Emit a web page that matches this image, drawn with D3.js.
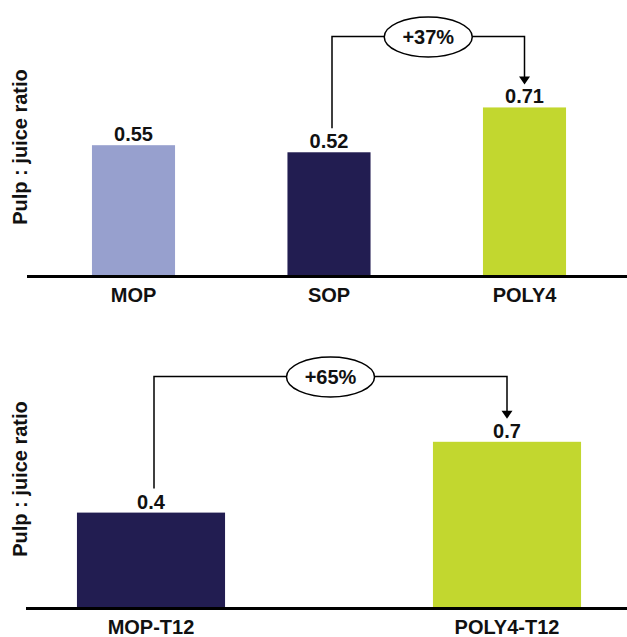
<!DOCTYPE html>
<html>
<head>
<meta charset="utf-8">
<script src="https://cdn.jsdelivr.net/npm/d3@7"></script>
<style>
  html, body { margin: 0; padding: 0; background: #fff; }
  svg { display: block; }
  text { font-family: "Liberation Sans", Arial, Helvetica, sans-serif; font-weight: bold; fill: #111; }
</style>
</head>
<body>
<svg id="chart" width="627" height="637"></svg>
<script>
// ---- Data ----
const topCategories = ["MOP", "SOP", "POLY4"];
const topValues = [0.55, 0.52, 0.71];
const topColors = ["#97A0CE", "#221D51", "#C2D72F"];
const topChange = "+37%";
const topFrom = "SOP", topTo = "POLY4";

const bottomCategories = ["MOP-T12", "POLY4-T12"];
const bottomValues = [0.4, 0.7];
const bottomColors = ["#221D51", "#C2D72F"];
const bottomChange = "+65%";
const bottomFrom = "MOP-T12", bottomTo = "POLY4-T12";

const yTitle = "Pulp : juice ratio";

// ---- Drawing ----
const svg = d3.select("#chart");
const FS = 20;

function panel(cfg) {
  const g = svg.append("g");
  const x = d3.scaleBand().domain(cfg.categories).range(cfg.xRange)
    .paddingInner(cfg.padding).paddingOuter(cfg.padding / 2);
  const y = d3.scaleLinear().domain([0, 1]).range([cfg.base, cfg.base - 236]);
  const fmt = d3.format(cfg.fmt);
  const data = cfg.categories.map((c, i) => ({ c, v: cfg.values[i], col: cfg.colors[i] }));

  g.selectAll("rect.bar").data(data).join("rect")
    .attr("class", "bar")
    .attr("x", d => x(d.c))
    .attr("width", x.bandwidth())
    .attr("y", d => y(d.v))
    .attr("height", d => y(0) - y(d.v))
    .attr("fill", d => d.col);

  g.selectAll("text.val").data(data).join("text")
    .attr("class", "val")
    .attr("x", d => x(d.c) + x.bandwidth() / 2)
    .attr("y", d => y(d.v) - 4)
    .attr("text-anchor", "middle")
    .attr("font-size", FS)
    .text(d => fmt(d.v));

  // baseline axis line
  g.append("line")
    .attr("x1", cfg.axisX0).attr("x2", 627)
    .attr("y1", cfg.base + 1.5).attr("y2", cfg.base + 1.5)
    .attr("stroke", "#000").attr("stroke-width", 3);

  // category labels via axis
  const ax = g.append("g").attr("transform", `translate(0,${cfg.base + 1})`)
    .call(d3.axisBottom(x).tickSize(0));
  ax.select(".domain").remove();
  ax.selectAll("text")
    .attr("y", 26).attr("dy", 0)
    .attr("font-size", FS)
    .style("font-family", '"Liberation Sans", Arial, Helvetica, sans-serif')
    .style("font-weight", "bold")
    .attr("fill", "#111");

  // y title
  g.append("text")
    .attr("transform", `translate(27,${cfg.base - 128}) rotate(-90)`)
    .attr("text-anchor", "middle")
    .attr("font-size", FS)
    .text(yTitle);

  // change bracket
  const fi = cfg.categories.indexOf(cfg.from), ti = cfg.categories.indexOf(cfg.to);
  const x1 = x(cfg.from) + x.bandwidth() / 2 + 3;
  const x2 = x(cfg.to) + x.bandwidth() / 2;
  const yStart = y(cfg.values[fi]) - 24;
  const yTip = y(cfg.values[ti]) - 23;
  const yLine = cfg.bracketY;
  g.append("path")
    .attr("d", `M${x1},${yStart}V${yLine}H${x2}V${yTip - 7}`)
    .attr("fill", "none").attr("stroke", "#000").attr("stroke-width", 1.5);
  g.append("path")
    .attr("d", `M${x2 - 5.5},${yTip - 8}L${x2 + 5.5},${yTip - 8}L${x2},${yTip}Z`)
    .attr("fill", "#000");
  const cx = (x1 + x2) / 2;
  g.append("ellipse")
    .attr("cx", cx).attr("cy", yLine + 0.5)
    .attr("rx", 44).attr("ry", 20)
    .attr("fill", "#fff").attr("stroke", "#000").attr("stroke-width", 1.5);
  g.append("text")
    .attr("x", cx).attr("y", yLine + 0.5).attr("dy", "0.36em")
    .attr("text-anchor", "middle")
    .attr("font-size", FS)
    .text(cfg.change);
}

panel({
  categories: topCategories, values: topValues, colors: topColors,
  xRange: [35.75, 622.25], padding: 0.575, base: 275, axisX0: 27,
  fmt: ".2f", from: topFrom, to: topTo, change: topChange, bracketY: 36.5
});

panel({
  categories: bottomCategories, values: bottomValues, colors: bottomColors,
  xRange: [-27, 685], padding: 0.584, base: 607, axisX0: 26,
  fmt: ".1f", from: bottomFrom, to: bottomTo, change: bottomChange, bracketY: 376.5
});
</script>
</body>
</html>
